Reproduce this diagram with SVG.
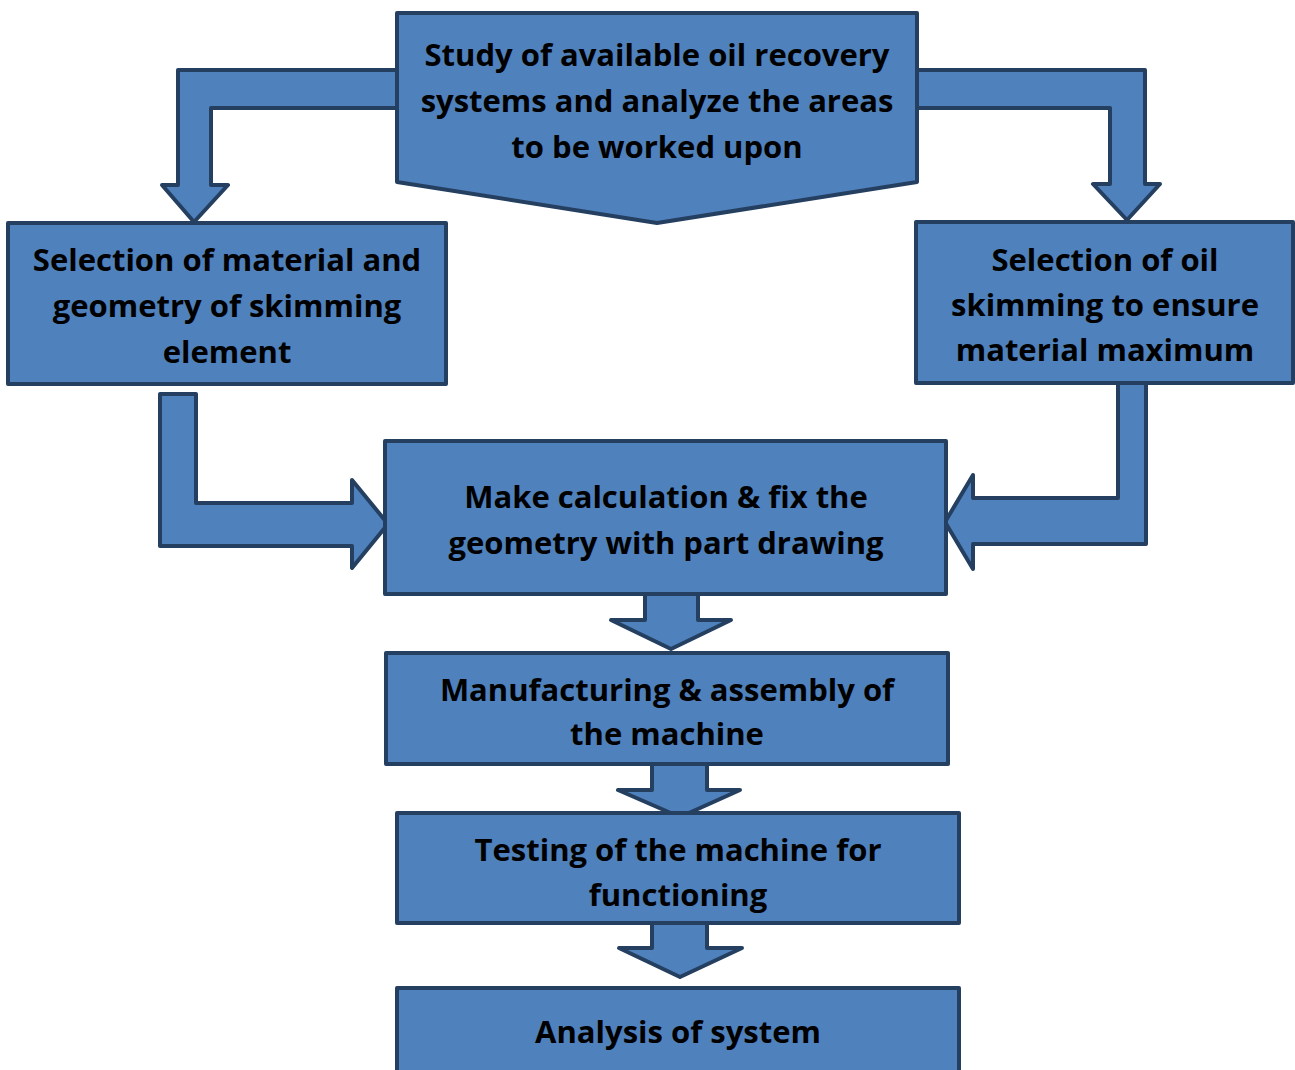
<svg xmlns="http://www.w3.org/2000/svg" width="1295" height="1070" viewBox="0 0 1295 1070">
<style>
.shp{fill:#4F81BD;stroke:#243F60;stroke-width:4;stroke-linejoin:round}
.t{font-family:"Open Sans","Noto Sans","Liberation Sans",sans-serif;font-weight:700;font-size:31px;fill:#000;text-anchor:middle}
</style>
<rect width="1295" height="1070" fill="#fff"/>
<g id="connectors">
<polygon class="shp" points="400,70 178,70 178,185 162,185 194,222 228,185 211,185 211,108 400,108"/>
<polygon class="shp" points="914,70 1145,70 1145,184 1160,184 1127,220 1093,184 1110,184 1110,108 914,108"/>
<polygon class="shp" points="160,394 196,394 196,503 352,503 352,480 388,524 352,568 352,546 160,546"/>
<polygon class="shp" points="1146,380 1146,544 973,544 973,569 945,522 973,475 973,498 1118,498 1118,380"/>
<polygon class="shp" points="645,590 698,590 698,620 731,620 671,649 611,620 645,620"/>
<polygon class="shp" points="652,760 707,760 707,790 740,790 680,817 618,790 652,790"/>
<polygon class="shp" points="652,919 707,919 707,948 742,948 680,977 619,948 652,948"/>
</g>
<g id="n1">
<polygon class="shp" points="397,13 917,13 917,182 657,223 397,182"/>
<text class="t" x="657" y="66">Study of available oil recovery</text>
<text class="t" x="657" y="112">systems and analyze the areas</text>
<text class="t" x="657" y="158">to be worked upon</text>
</g>
<g id="n2">
<rect class="shp" x="8" y="223" width="438" height="161"/>
<text class="t" x="227" y="271">Selection of material and</text>
<text class="t" x="227" y="317">geometry of skimming</text>
<text class="t" x="227" y="363">element</text>
</g>
<g id="n3">
<rect class="shp" x="916" y="222" width="377" height="161"/>
<text class="t" x="1105" y="271">Selection of oil</text>
<text class="t" x="1105" y="316">skimming to ensure</text>
<text class="t" x="1105" y="361">material maximum</text>
</g>
<g id="n4">
<rect class="shp" x="385" y="441" width="561" height="153"/>
<text class="t" x="666" y="508">Make calculation &amp; fix the</text>
<text class="t" x="666" y="554">geometry with part drawing</text>
</g>
<g id="n5">
<rect class="shp" x="386" y="653" width="562" height="111"/>
<text class="t" x="667" y="701">Manufacturing &amp; assembly of</text>
<text class="t" x="667" y="745">the machine</text>
</g>
<g id="n6">
<rect class="shp" x="397" y="813" width="562" height="110"/>
<text class="t" x="678" y="861">Testing of the machine for</text>
<text class="t" x="678" y="906">functioning</text>
</g>
<g id="n7">
<rect class="shp" x="397" y="988" width="562" height="90"/>
<text class="t" x="678" y="1043">Analysis of system</text>
</g>
</svg>
